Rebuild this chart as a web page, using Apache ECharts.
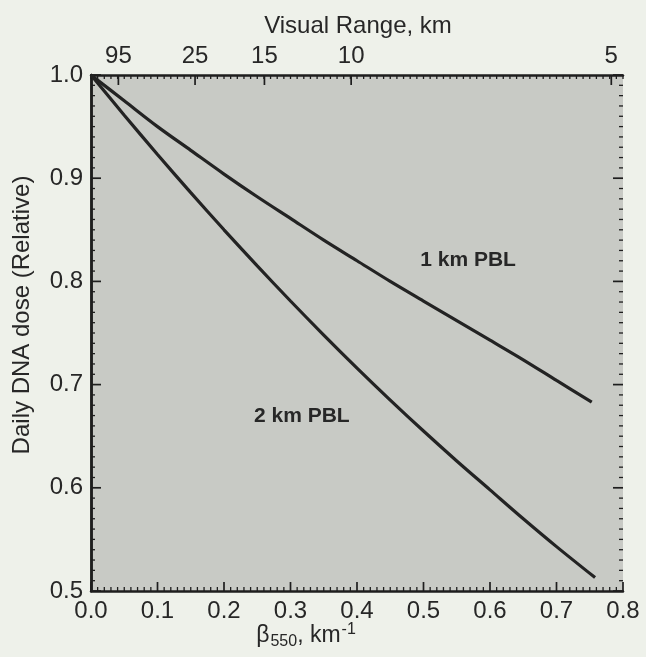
<!DOCTYPE html>
<html>
<head>
<meta charset="utf-8">
<script src="https://cdn.jsdelivr.net/npm/echarts@6/dist/echarts.min.js"></script>
<style>
html,body{margin:0;padding:0;background:#eef1ea;}
#chart{width:646px;height:657px;}
</style>
</head>
<body>
<div id="chart"></div>
<script>
// beta_550 (km^-1) sample positions
var beta1km = [0, 0.05, 0.10, 0.15, 0.20, 0.25, 0.30, 0.35, 0.40, 0.45, 0.50, 0.55, 0.60, 0.65, 0.70, 0.753];
var dose1km = [1.000, 0.975, 0.950, 0.927, 0.904, 0.882, 0.861, 0.840, 0.820, 0.800, 0.781, 0.762, 0.743, 0.724, 0.704, 0.683];
var beta2km = [0, 0.05, 0.10, 0.15, 0.20, 0.25, 0.30, 0.35, 0.40, 0.45, 0.50, 0.55, 0.60, 0.65, 0.70, 0.758];
var dose2km = [1.000, 0.961, 0.923, 0.886, 0.850, 0.815, 0.781, 0.748, 0.716, 0.685, 0.655, 0.626, 0.598, 0.570, 0.543, 0.513];
// top axis: visual range (km), related to beta via Koschmieder V = 3.912 / beta
var visualRangeKm = [95, 25, 15, 10, 5];
var koschmieder = 3.912;
var seriesNames = ['1 km PBL', '2 km PBL'];
var labelPos1km = [0.567, 0.821];
var labelPos2km = [0.317, 0.669];

var topTickBeta = visualRangeKm.map(function (v) { return koschmieder / v; });

var FONT = 'Liberation Sans, Arial, sans-serif';
var INK = '#232323';
var TICK = '#1e1e1e';
var TXT = '#272727';
var X_MIN = 0, X_MAX = 0.8, Y_MIN = 0.5, Y_MAX = 1.0;

function mk(a, b) {
  var out = [];
  for (var i = 0; i < a.length; i++) out.push([a[i], b[i]]);
  return out;
}
function isMajor(v) { return Math.abs(v * 10 - Math.round(v * 10)) < 1e-6; }

// tick positions (every 0.01 along each axis)
var xTickVals = [], yTickVals = [];
for (var i = 0; i <= 80; i++) xTickVals.push(i / 100);
for (var j = 50; j <= 100; j++) yTickVals.push(j / 100);

// edge tick data: [x, y, length]
var bottomTicks = xTickVals.map(function (v) { return [v, Y_MIN, isMajor(v) ? 9 : 4]; });
var topTicks = xTickVals.map(function (v) { return [v, Y_MAX, 4]; })
  .concat(topTickBeta.map(function (v) { return [v, Y_MAX, 10]; }));
var leftTicks = yTickVals.map(function (v) { return [X_MIN, v, isMajor(v) ? 10 : 4]; });
var rightTicks = yTickVals.map(function (v) { return [X_MAX, v, isMajor(v) ? 10 : 4]; });

function tickSeries(data, dx, dy) {
  return {
    type: 'custom', xAxisIndex: 0, yAxisIndex: 0, silent: true, clip: false, z: 4,
    data: data, encode: {x: 0, y: 1},
    renderItem: function (params, api) {
      var p = api.coord([api.value(0), api.value(1)]);
      var len = api.value(2);
      return {
        type: 'line',
        shape: {x1: p[0], y1: p[1], x2: p[0] + dx * len, y2: p[1] + dy * len},
        style: {stroke: TICK, lineWidth: len > 5 ? 1.7 : 1.3}
      };
    }
  };
}

var chart = echarts.init(document.getElementById('chart'));
var frameLine = {show: true, lineStyle: {color: TICK, width: 2.5}};
var numLabel = {margin: 8, fontFamily: FONT, fontSize: 24, color: TXT, formatter: function (v) { return v.toFixed(1); }};

var option = {
  backgroundColor: '#eef1ea',
  animation: false,
  grid: {left: 91, right: 23, top: 75, bottom: 66, show: true, backgroundColor: '#c8cac5', borderWidth: 0},
  xAxis: [
    {type: 'value', position: 'bottom', min: X_MIN, max: X_MAX, interval: 0.1, splitLine: {show: false},
      axisLine: frameLine, axisTick: {show: false}, axisLabel: numLabel},
    {type: 'value', position: 'top', min: X_MIN, max: X_MAX, splitLine: {show: false},
      axisLine: frameLine, axisTick: {show: false},
      axisLabel: {
        show: true, margin: 7, customValues: topTickBeta, fontFamily: FONT, fontSize: 24, color: TXT,
        formatter: function (v) {
          var best = 0, d = 1e9;
          for (var i = 0; i < topTickBeta.length; i++) {
            var dd = Math.abs(topTickBeta[i] - v);
            if (dd < d) { d = dd; best = i; }
          }
          return String(visualRangeKm[best]);
        }
      }
    }
  ],
  yAxis: [
    {type: 'value', position: 'left', min: Y_MIN, max: Y_MAX, interval: 0.1, splitLine: {show: false},
      axisLine: frameLine, axisTick: {show: false}, axisLabel: numLabel},
    {type: 'value', position: 'right', min: Y_MIN, max: Y_MAX, interval: 0.1, splitLine: {show: false},
      axisLine: frameLine, axisTick: {show: false}, axisLabel: {show: false}}
  ],
  series: [
    {
      name: seriesNames[0], type: 'line', xAxisIndex: 0, yAxisIndex: 0, smooth: 0.3, symbol: 'none', z: 5,
      data: mk(beta1km, dose1km),
      lineStyle: {color: INK, width: 3.2},
      markPoint: {
        symbol: 'rect', symbolSize: 1, itemStyle: {color: 'transparent'},
        label: {show: true, position: 'inside', formatter: seriesNames[0], fontFamily: FONT, fontSize: 21, fontWeight: 'bold', color: TXT},
        data: [{coord: labelPos1km}]
      }
    },
    {
      name: seriesNames[1], type: 'line', xAxisIndex: 0, yAxisIndex: 0, smooth: 0.3, symbol: 'none', z: 5,
      data: mk(beta2km, dose2km),
      lineStyle: {color: INK, width: 3.2},
      markPoint: {
        symbol: 'rect', symbolSize: 1, itemStyle: {color: 'transparent'},
        label: {show: true, position: 'inside', formatter: seriesNames[1], fontFamily: FONT, fontSize: 21, fontWeight: 'bold', color: TXT},
        data: [{coord: labelPos2km}]
      }
    },
    tickSeries(bottomTicks, 0, -1),
    tickSeries(topTicks, 0, 1),
    tickSeries(leftTicks, 1, 0),
    tickSeries(rightTicks, -1, 0)
  ],
  graphic: [
    {
      type: 'text', x: 358, y: 26,
      style: {text: 'Visual Range, km', font: '24px ' + FONT, fill: TXT, textAlign: 'center', textVerticalAlign: 'middle'}
    },
    {
      type: 'text', x: 22, y: 315, rotation: Math.PI / 2,
      style: {text: 'Daily DNA dose (Relative)', font: '24px ' + FONT, fill: TXT, textAlign: 'center', textVerticalAlign: 'middle'}
    },
    {
      type: 'text', x: 306, y: 636,
      style: {
        text: '{b|β}{s|550}{b|, km}{p|-1}',
        textAlign: 'center', textVerticalAlign: 'middle',
        rich: {
          b: {fontFamily: FONT, fontSize: 23, fill: TXT},
          s: {fontFamily: FONT, fontSize: 16, fill: TXT, padding: [12, 0, 0, 1]},
          p: {fontFamily: FONT, fontSize: 16, fill: TXT, padding: [0, 0, 12, 1]}
        }
      }
    }
  ]
};
chart.setOption(option);
</script>
</body>
</html>
